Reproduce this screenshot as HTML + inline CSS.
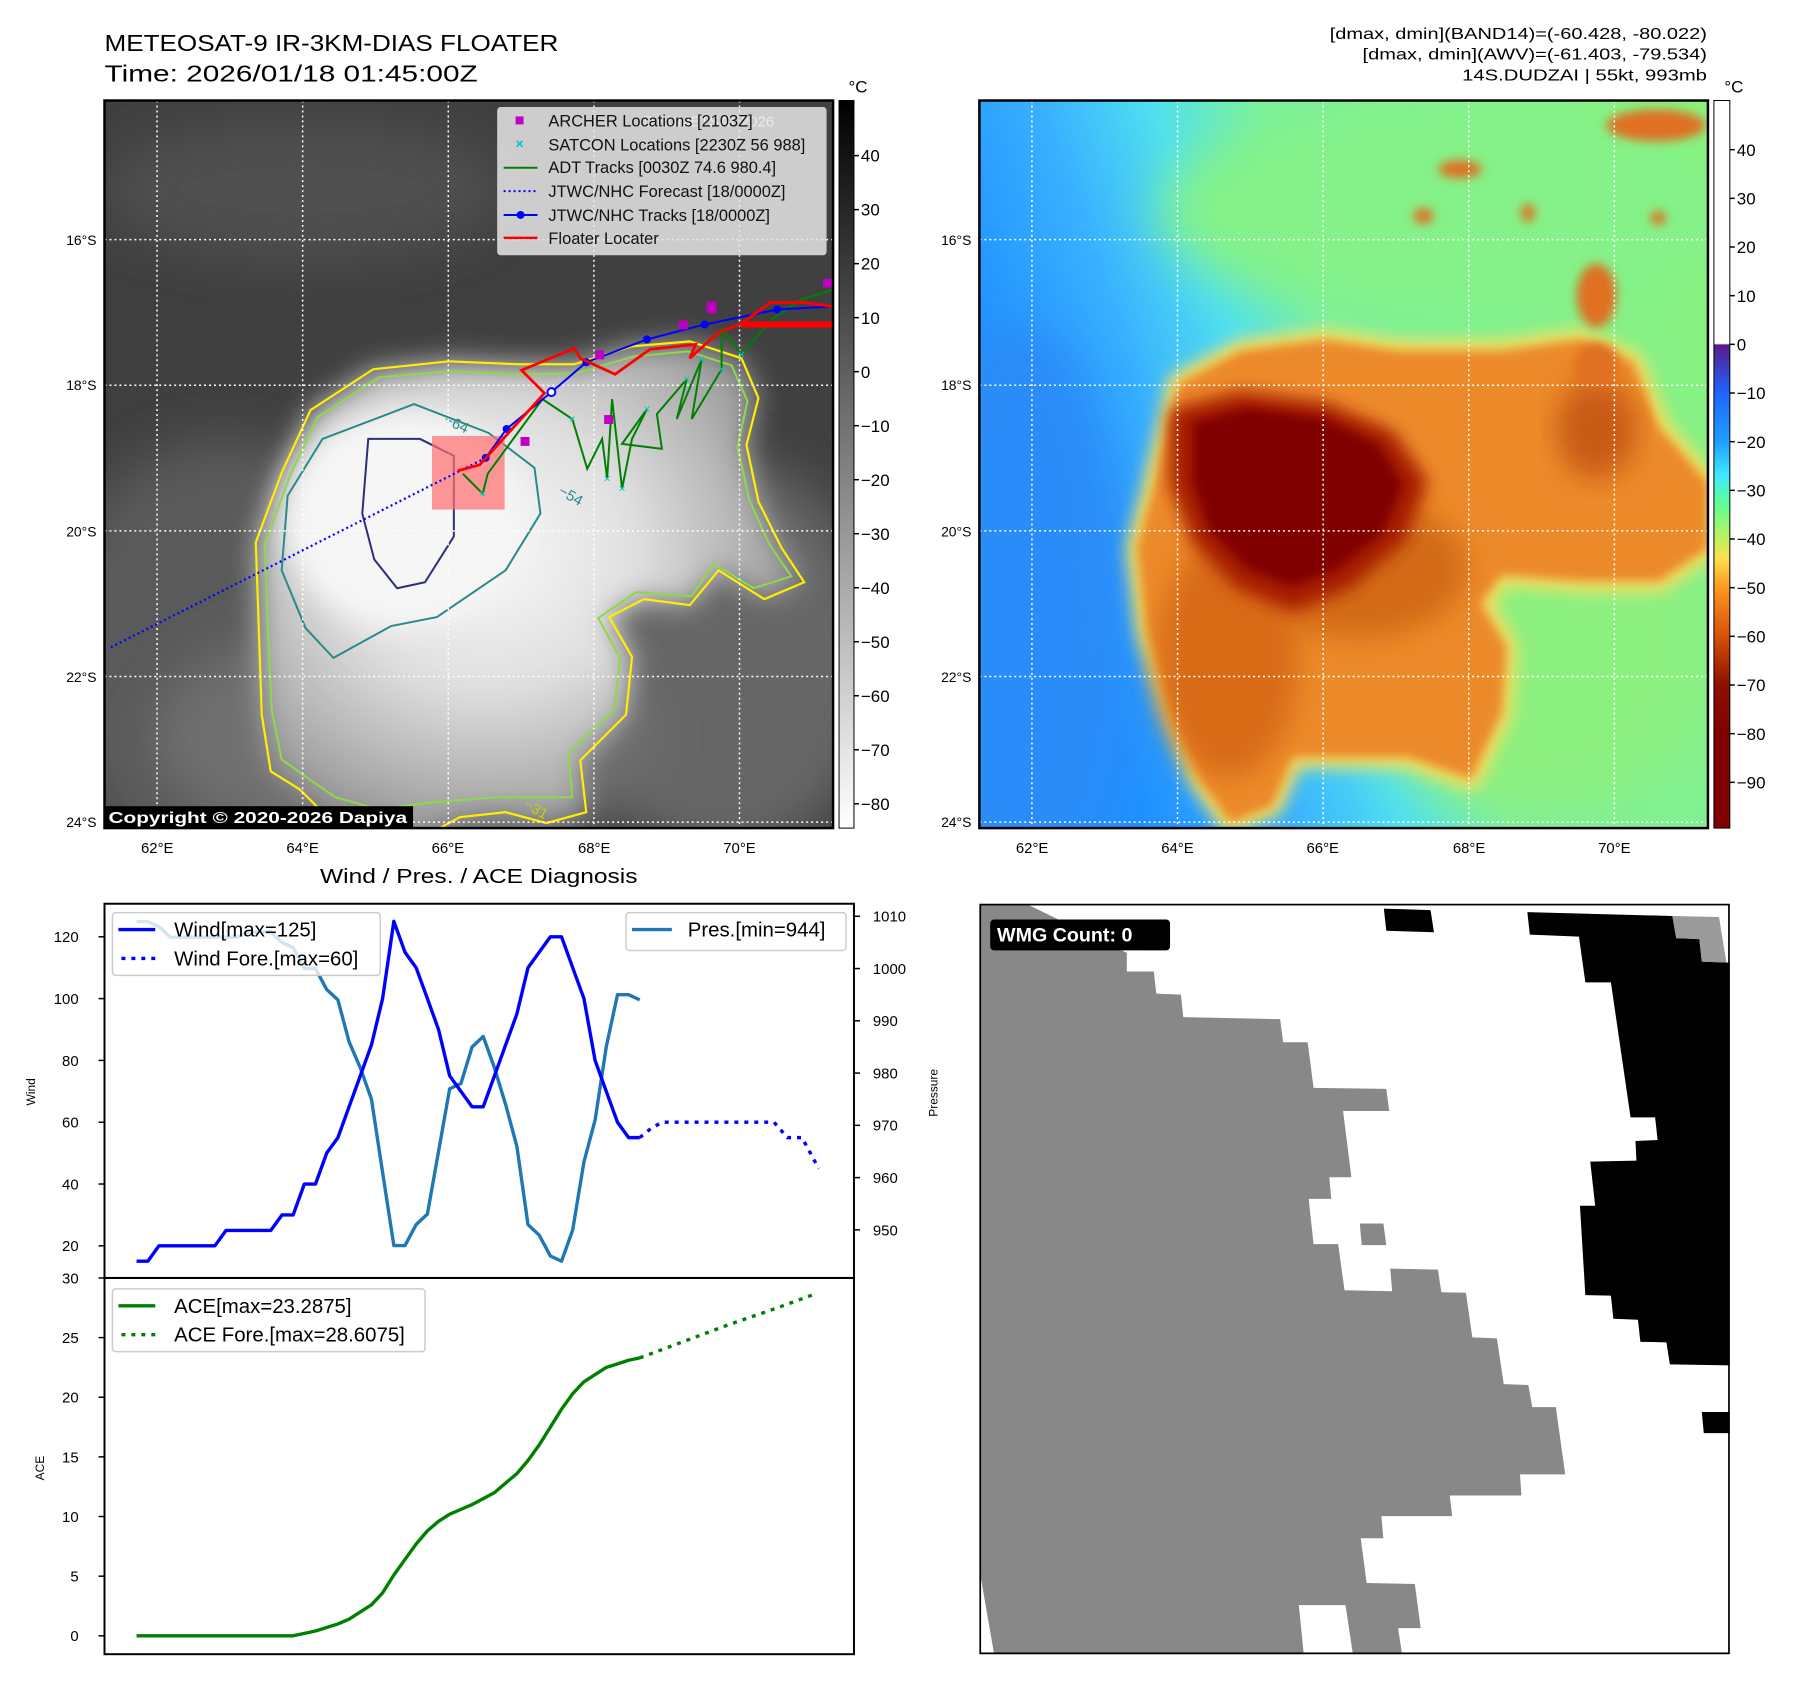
<!DOCTYPE html>
<html><head><meta charset="utf-8"><style>
html,body{margin:0;padding:0;background:#fff;}
svg{display:block;font-family:"Liberation Sans","DejaVu Sans",sans-serif;}
</style></head><body>
<svg id="root" width="1797" height="1690" viewBox="0 0 1797 1690" xmlns="http://www.w3.org/2000/svg">
<defs>
  <clipPath id="mapclip"><rect x="0" y="0" width="732" height="731"/></clipPath>
  <filter id="blur5" x="-20%" y="-20%" width="140%" height="140%"><feGaussianBlur stdDeviation="5"/></filter>
  <filter id="blur8" x="-20%" y="-20%" width="140%" height="140%"><feGaussianBlur stdDeviation="8"/></filter>
  <filter id="blur14" x="-20%" y="-20%" width="140%" height="140%"><feGaussianBlur stdDeviation="14"/></filter>
  <filter id="blur25" x="-30%" y="-30%" width="160%" height="160%"><feGaussianBlur stdDeviation="25"/></filter>
  <radialGradient id="cloudGray" cx="0.42" cy="0.42" r="0.6">
    <stop offset="0" stop-color="#f8f8f8"/><stop offset="0.45" stop-color="#e0e0e0"/><stop offset="0.8" stop-color="#b0b0b0"/><stop offset="1" stop-color="#909090"/>
  </radialGradient>
  <linearGradient id="bg2" x1="0" y1="0.35" x2="1" y2="0">
    <stop offset="0" stop-color="#2090ff"/><stop offset="0.18" stop-color="#38b0ff"/><stop offset="0.32" stop-color="#50e0f0"/><stop offset="0.45" stop-color="#7af0a0"/><stop offset="1" stop-color="#8cf27a"/>
  </linearGradient>
  <linearGradient id="cbGray" x1="0" y1="0" x2="0" y2="1">
    <stop offset="0" stop-color="#000"/><stop offset="1" stop-color="#fff"/>
  </linearGradient>
  <linearGradient id="cbColor" x1="0" y1="0" x2="0" y2="1">
    <stop offset="0" stop-color="#ffffff"/><stop offset="0.334" stop-color="#ffffff"/>
    <stop offset="0.336" stop-color="#5a1a8a"/><stop offset="0.401" stop-color="#1e64ff"/>
    <stop offset="0.469" stop-color="#1ea0ff"/><stop offset="0.515" stop-color="#40e8ff"/>
    <stop offset="0.556" stop-color="#60ff90"/><stop offset="0.602" stop-color="#c0f060"/>
    <stop offset="0.629" stop-color="#ffe050"/><stop offset="0.669" stop-color="#ff9820"/>
    <stop offset="0.736" stop-color="#d85008"/><stop offset="0.803" stop-color="#8b1000"/>
    <stop offset="0.87" stop-color="#800000"/><stop offset="1" stop-color="#800000"/>
  </linearGradient>
</defs>
<g transform="scale(0.9953)">
<!-- Titles -->
<text x="105" y="51" font-size="23" textLength="456" lengthAdjust="spacingAndGlyphs">METEOSAT-9 IR-3KM-DIAS FLOATER</text>
<text x="105" y="82" font-size="23" textLength="375" lengthAdjust="spacingAndGlyphs">Time: 2026/01/18 01:45:00Z</text>
<g font-size="16" text-anchor="end">
  <text x="1715" y="39" textLength="379" lengthAdjust="spacingAndGlyphs">[dmax, dmin](BAND14)=(-60.428, -80.022)</text>
  <text x="1715" y="60" textLength="346" lengthAdjust="spacingAndGlyphs">[dmax, dmin](AWV)=(-61.403, -79.534)</text>
  <text x="1715" y="81" textLength="246" lengthAdjust="spacingAndGlyphs">14S.DUDZAI | 55kt, 993mb</text>
</g>

<!-- MAP 1 (IR grayscale) -->
<g transform="translate(105,101)">
 <g clip-path="url(#mapclip)">
  <rect width="732" height="731" fill="#404040"/>
  <ellipse cx="120" cy="560" rx="180" ry="220" fill="#5a5a5a" filter="url(#blur25)"/>
  <ellipse cx="620" cy="560" rx="160" ry="200" fill="#666" filter="url(#blur25)"/>
  <ellipse cx="300" cy="640" rx="250" ry="120" fill="#707070" filter="url(#blur25)"/>
  <ellipse cx="200" cy="90" rx="200" ry="70" fill="#505050" filter="url(#blur25)"/>
  <path d="M270,270 L207,311 L178,374 L152,444 L155,530 L158,617 L167,674 L196,692 L219,715 L265,726 L311,745 L357,720 L403,715 L444,726 L484,715 L478,663 L524,617 L530,559 L507,519 L542,501 L588,507 L617,472 L663,501 L703,484 L680,449 L657,403 L645,346 L657,299 L640,259 L588,242 L530,247 L472,265 L415,265 L346,262 Z" fill="url(#cloudGray)" filter="url(#blur14)"/>
  <ellipse cx="300" cy="420" rx="120" ry="110" fill="#f6f6f6" filter="url(#blur14)"/>
  <path d="M270,270 L207,311 L178,374 L152,444 L155,530 L158,617 L167,674 L196,692 L219,715 L265,726 L311,745 L357,720 L403,715 L444,726 L484,715 L478,663 L524,617 L530,559 L507,519 L542,501 L588,507 L617,472 L663,501 L703,484 L680,449 L657,403 L645,346 L657,299 L640,259 L588,242 L530,247 L472,265 L415,265 L346,262 Z" fill="none" stroke="#ffee00" stroke-width="2.2"/>
  <path d="M276,278 L214,318 L186,378 L161,446 L164,528 L168,612 L178,662 L206,682 L232,700 L275,712 L330,705 L395,700 L470,700 L466,655 L512,612 L518,560 L496,520 L534,494 L590,498 L612,465 L652,490 L690,478 L668,446 L648,402 L636,348 L646,302 L630,266 L586,252 L532,257 L474,274 L414,275 L346,272 Z" fill="none" stroke="#8fd84a" stroke-width="2"/>
  <path d="M311,305 L219,340 L184,397 L178,472 L202,530 L230,560 L288,528 L334,519 L403,472 L438,415 L432,369 L386,334 Z" fill="none" stroke="#2a8a8a" stroke-width="2"/>
  <path d="M265,340 L317,340 L351,357 L351,438 L322,484 L294,490 L271,461 L259,415 Z" fill="none" stroke="#2c2f7a" stroke-width="2"/>
  <text x="340" y="324" font-size="15" fill="#2a8a8a" transform="rotate(25,340,324)">−64</text>
  <text x="455" y="395" font-size="15" fill="#2a8a8a" transform="rotate(30,455,395)">−54</text>
  <text x="420" y="710" font-size="15" fill="#cccc00" transform="rotate(30,420,710)">−31</text>
  <g stroke="#fff" stroke-width="1.5" stroke-dasharray="2 3">
    <line x1="52.8" y1="0" x2="52.8" y2="731"/><line x1="199.1" y1="0" x2="199.1" y2="731"/><line x1="345.4" y1="0" x2="345.4" y2="731"/><line x1="491.7" y1="0" x2="491.7" y2="731"/><line x1="638" y1="0" x2="638" y2="731"/>
    <line x1="0" y1="139.8" x2="732" y2="139.8"/><line x1="0" y1="286.1" x2="732" y2="286.1"/><line x1="0" y1="432.4" x2="732" y2="432.4"/><line x1="0" y1="578.7" x2="732" y2="578.7"/><line x1="0" y1="725" x2="732" y2="725"/>
  </g>
  <rect x="329" y="337" width="73" height="74" fill="#ff6e6e" opacity="0.7"/>
  <polyline points="383,359 5,550" fill="none" stroke="#0000ff" stroke-width="2.2" stroke-dasharray="2 3"/>
  <polyline points="360,375 380,395 385,375 440,300 470,320 485,370 500,340 505,380 510,300 520,390 530,340 545,310 520,345 560,350 555,315 585,280 575,320 600,260 590,320 620,270 620,230 640,255 670,220 700,200 732,190" fill="none" stroke="#008000" stroke-width="2"/>
  <g fill="#00c8c8" font-size="12" text-anchor="middle">
    <text x="380" y="399">×</text><text x="470" y="324">×</text><text x="505" y="384">×</text><text x="520" y="394">×</text><text x="545" y="314">×</text><text x="585" y="284">×</text><text x="600" y="264">×</text><text x="620" y="274">×</text><text x="640" y="259">×</text>
  </g>
  <polyline points="383,359 404,330 449,293 484,263 545,240 603,225 676,210 732,207" fill="none" stroke="#0000ff" stroke-width="2"/>
  <g fill="#0000ff"><circle cx="383" cy="359" r="4"/><circle cx="404" cy="330" r="4"/><circle cx="449" cy="293" r="4" fill="#fff" stroke="#00f" stroke-width="2"/><circle cx="484" cy="263" r="4"/><circle cx="545" cy="240" r="4"/><circle cx="603" cy="225" r="4"/><circle cx="676" cy="210" r="4"/></g>
  <polyline points="355,372 377,366 442,294 419,271 472,249 478,259 513,275 548,250 594,245 588,259 617,233 640,224 669,203 703,203 732,207" fill="none" stroke="#ff0000" stroke-width="2.8"/>
  <line x1="640" y1="225" x2="732" y2="225" stroke="#ff0000" stroke-width="6"/>
  <g fill="#c000c0">
    <rect x="493" y="251" width="9" height="9"/><rect x="502" y="316" width="9" height="9"/><rect x="418" y="338" width="9" height="9"/><rect x="577" y="221" width="9" height="9"/><rect x="605" y="202" width="10" height="12"/><rect x="722" y="179" width="9" height="9"/>
  </g>
  <g>
    <rect x="395" y="7" width="330" height="148" rx="3" fill="#e6e6e6" fill-opacity="0.85" stroke="#ccc"/>
    <text x="540" y="26" font-size="15" fill="#fff" fill-opacity="0.6">© EUMETSAT 2026</text>
    <rect x="413" y="16" width="8" height="8" fill="#c000c0"/>
    <text x="417" y="48" font-size="14" fill="#00c8c8" text-anchor="middle" font-weight="bold">×</text>
    <line x1="401" y1="67.5" x2="435" y2="67.5" stroke="#008000" stroke-width="2"/>
    <line x1="401" y1="91" x2="435" y2="91" stroke="#0000ff" stroke-width="2" stroke-dasharray="2 3"/>
    <line x1="401" y1="115" x2="435" y2="115" stroke="#0000ff" stroke-width="2"/><circle cx="418" cy="115" r="4" fill="#00f"/>
    <line x1="401" y1="138" x2="435" y2="138" stroke="#ff0000" stroke-width="2.5"/>
    <g font-size="16.5" fill="#111">
      <text x="446" y="26">ARCHER Locations [2103Z]</text>
      <text x="446" y="50">SATCON Locations [2230Z 56 988]</text>
      <text x="446" y="73">ADT Tracks [0030Z 74.6 980.4]</text>
      <text x="446" y="97">JTWC/NHC Forecast [18/0000Z]</text>
      <text x="446" y="121">JTWC/NHC Tracks [18/0000Z]</text>
      <text x="446" y="144">Floater Locater</text>
    </g>
  </g>
  <rect x="0" y="709" width="310" height="22" fill="#000"/>
  <text x="4" y="726" font-size="16" font-weight="bold" fill="#fff" textLength="300" lengthAdjust="spacingAndGlyphs">Copyright © 2020-2026 Dapiya</text>
 </g>
 <rect width="732" height="731" fill="none" stroke="#000" stroke-width="2.5"/>
</g>

<!-- MAP 2 (color IR) -->
<g transform="translate(984,101)">
 <g clip-path="url(#mapclip)">
  <rect width="732" height="731" fill="url(#bg2)"/>
  <ellipse cx="40" cy="520" rx="110" ry="300" fill="#2a8cf8" filter="url(#blur25)"/>
  <ellipse cx="480" cy="110" rx="300" ry="110" fill="#84f288" filter="url(#blur25)"/>
  <ellipse cx="560" cy="560" rx="180" ry="160" fill="#8cf080" filter="url(#blur25)"/>
  <path d="M173,395 L200,284 L263,251 L347,240 L420,251 L525,251 L604,240 L656,262 L683,328 L732,384 L732,450 L683,483 L604,483 L525,477 L504,505 L530,549 L525,615 L494,682 L431,660 L315,660 L294,709 L252,726 L221,682 L194,615 L168,533 L158,450 Z" fill="#f0e060" stroke="#f0e060" stroke-width="22" stroke-linejoin="round" filter="url(#blur8)"/>
  <path d="M173,395 L200,284 L263,251 L347,240 L420,251 L525,251 L604,240 L656,262 L683,328 L732,384 L732,450 L683,483 L604,483 L525,477 L504,505 L530,549 L525,615 L494,682 L431,660 L315,660 L294,709 L252,726 L221,682 L194,615 L168,533 L158,450 Z" fill="#ec8a2a" filter="url(#blur5)"/>
  <ellipse cx="380" cy="470" rx="110" ry="70" fill="#d36a18" filter="url(#blur14)"/>
  <ellipse cx="620" cy="330" rx="40" ry="50" fill="#c85a14" filter="url(#blur14)"/>
  <ellipse cx="250" cy="560" rx="70" ry="120" fill="#d86a18" filter="url(#blur14)"/>
  <path d="M200,317 L263,301 L347,312 L410,339 L441,384 L420,439 L368,483 L315,505 L263,483 L221,439 L200,384 Z" fill="#a01800" stroke="#a82000" stroke-width="18" stroke-linejoin="round" filter="url(#blur8)"/>
  <path d="M215,323 L270,309 L345,319 L400,345 L425,386 L405,434 L360,470 L315,488 L270,470 L232,432 L215,384 Z" fill="#800000" filter="url(#blur5)"/>
  <g fill="#e07020" filter="url(#blur5)">
    <ellipse cx="680" cy="25" rx="50" ry="16"/><ellipse cx="483" cy="69" rx="22" ry="9"/><ellipse cx="446" cy="116" rx="10" ry="8"/><ellipse cx="551" cy="113" rx="7" ry="9"/><ellipse cx="620" cy="196" rx="20" ry="32"/><ellipse cx="620" cy="265" rx="22" ry="22"/><ellipse cx="682" cy="118" rx="8" ry="7"/>
  </g>
  <g stroke="#fff" stroke-width="1.5" stroke-dasharray="2 3">
    <line x1="52.8" y1="0" x2="52.8" y2="731"/><line x1="199.1" y1="0" x2="199.1" y2="731"/><line x1="345.4" y1="0" x2="345.4" y2="731"/><line x1="491.7" y1="0" x2="491.7" y2="731"/><line x1="638" y1="0" x2="638" y2="731"/>
    <line x1="0" y1="139.8" x2="732" y2="139.8"/><line x1="0" y1="286.1" x2="732" y2="286.1"/><line x1="0" y1="432.4" x2="732" y2="432.4"/><line x1="0" y1="578.7" x2="732" y2="578.7"/><line x1="0" y1="725" x2="732" y2="725"/>
  </g>
 </g>
 <rect width="732" height="731" fill="none" stroke="#000" stroke-width="2.5"/>
</g>

<g font-size="14" fill="#000">
  <g text-anchor="end"><text x="97" y="246">16°S</text><text x="97" y="392">18°S</text><text x="97" y="539">20°S</text><text x="97" y="685">22°S</text><text x="97" y="831">24°S</text></g>
  <g text-anchor="end"><text x="976" y="246">16°S</text><text x="976" y="392">18°S</text><text x="976" y="539">20°S</text><text x="976" y="685">22°S</text><text x="976" y="831">24°S</text></g>
  <g text-anchor="middle" font-size="15"><text x="158" y="857">62°E</text><text x="304" y="857">64°E</text><text x="450" y="857">66°E</text><text x="597" y="857">68°E</text><text x="743" y="857">70°E</text>
  <text x="1037" y="857">62°E</text><text x="1183" y="857">64°E</text><text x="1329" y="857">66°E</text><text x="1476" y="857">68°E</text><text x="1622" y="857">70°E</text></g>
</g>

<g>
  <rect x="843" y="101" width="15" height="731" fill="url(#cbGray)" stroke="#000" stroke-width="1"/>
  <text x="862" y="93" font-size="17" text-anchor="middle">°C</text>
</g>
<g>
  <rect x="1722" y="101" width="16" height="731" fill="url(#cbColor)" stroke="#000" stroke-width="1"/>
  <text x="1742" y="93" font-size="17" text-anchor="middle">°C</text>
</g>
<g id="cbticks" font-size="17"></g>

<svg x="984" y="908" width="754" height="754" viewBox="0 0 1527 1528" preserveAspectRatio="none">
  <rect width="1527" height="1528" fill="#fff"/>
  <polygon points="0,0 95,0 300,100 300,138 355,138 360,183 410,185 415,231 612,235 618,282 668,282 680,375 828,377 834,422 740,422 757,557 712,557 716,601 670,601 680,693 730,693 743,787 840,789 836,743 933,745 940,791 990,792 1003,883 1053,885 1067,978 1117,980 1125,1025 1173,1025 1192,1162 1100,1162 1103,1205 957,1205 962,1247 818,1247 822,1292 776,1292 788,1383 886,1385 898,1475 852,1475 860,1528 760,1528 745,1428 650,1428 660,1528 30,1528 0,1355" fill="#888"/>
  <polygon points="774,651 822,651 828,695 778,695" fill="#888"/>
  <polygon points="823,10 918,13 925,58 828,55" fill="#000"/>
  <polygon points="1115,17 1410,25 1418,70 1465,72 1470,118 1527,120 1527,940 1405,938 1398,893 1345,892 1340,847 1290,845 1285,798 1233,797 1222,615 1253,615 1243,525 1337,523 1335,483 1380,481 1375,435 1325,435 1285,160 1233,160 1220,67 1120,63" fill="#000"/>
  <polygon points="1410,25 1505,27 1520,120 1470,118 1465,72 1418,70" fill="#9a9a9a"/>
  <polygon points="1470,1035 1527,1035 1527,1078 1474,1078" fill="#000"/>
  <rect x="22" y="32" width="366" height="63" rx="8" fill="#000"/>
  <text x="36" y="77" font-size="40" font-weight="bold" fill="#fff">WMG Count: 0</text>
  <rect x="1" y="1" width="1525" height="1526" fill="none" stroke="#000" stroke-width="5"/>
</svg>

<text x="481" y="887" font-size="20" text-anchor="middle" textLength="319" lengthAdjust="spacingAndGlyphs">Wind / Pres. / ACE Diagnosis</text>
<g id="charts"></g>
<rect x="105" y="908" width="753" height="376" fill="none" stroke="#000" stroke-width="2"/>
<rect x="105" y="1284" width="753" height="378" fill="none" stroke="#000" stroke-width="2"/>
<text transform="translate(35,1097) rotate(-90)" font-size="12" text-anchor="middle">Wind</text>
<text transform="translate(942,1098) rotate(-90)" font-size="12" text-anchor="middle">Pressure</text>
<text transform="translate(44,1475) rotate(-90)" font-size="12" text-anchor="middle">ACE</text>

<g>
  <rect x="113" y="917" width="269" height="63" rx="3" fill="#fff" fill-opacity="0.8" stroke="#ccc" stroke-width="1.5"/>
  <line x1="119" y1="934" x2="156" y2="934" stroke="#0000ff" stroke-width="3.4"/>
  <line x1="122" y1="963" x2="156" y2="963" stroke="#0000ff" stroke-width="3.4" stroke-dasharray="4 6"/>
  <text x="175" y="941" font-size="20.5">Wind[max=125]</text>
  <text x="175" y="970" font-size="20.5">Wind Fore.[max=60]</text>
</g>
<g>
  <rect x="629" y="917" width="221" height="38" rx="3" fill="#fff" fill-opacity="0.8" stroke="#ccc" stroke-width="1.5"/>
  <line x1="635" y1="934" x2="675" y2="934" stroke="#1f77b4" stroke-width="3.4"/>
  <text x="691" y="941" font-size="20.5">Pres.[min=944]</text>
</g>
<g>
  <rect x="113" y="1295" width="314" height="63" rx="3" fill="#fff" fill-opacity="0.8" stroke="#ccc" stroke-width="1.5"/>
  <line x1="119" y1="1312" x2="156" y2="1312" stroke="#008000" stroke-width="3.4"/>
  <line x1="122" y1="1341" x2="156" y2="1341" stroke="#008000" stroke-width="3.4" stroke-dasharray="4 6"/>
  <text x="175" y="1319" font-size="20.5">ACE[max=23.2875]</text>
  <text x="175" y="1348" font-size="20.5">ACE Fore.[max=28.6075]</text>
</g>
</g>
</svg>

<script>
const windVals = [15,15,20,20,20,20,20,20,25,25,25,25,25,30,30,40,40,50,55,65,75,85,100,125,115,110,100,90,75,70,65,65,75,85,95,110,115,120,120,110,100,80,70,60,55,55];
const presVals = [1009,1009,1008,1006,1006,1006,1006,1006,1006,1006,1007,1007,1007,1005,1004,1000,1000,996,994,986,981,975,961,947,947,951,953,965,977,978,985,987,981,974,966,951,949,945,944,950,963,971,985,995,995,994];
const aceVals = [0,0,0,0,0,0,0,0,0,0,0,0,0,0,0,0.2,0.4,0.7,1.0,1.4,2.0,2.6,3.6,5.1,6.4,7.7,8.8,9.6,10.2,10.6,11.0,11.5,12.0,12.8,13.6,14.7,16.0,17.5,19.0,20.3,21.3,21.9,22.5,22.8,23.1,23.3];
const windForeX = [45,46,47,51,55,57,58.2,59.5,61];
const windForeVals = [55,58,60,60,60,60,55,55,45];
const aceForeX = [45,49,53,57,60.5];
const aceForeVals = [23.3,24.7,26.1,27.4,28.6];
const windTicks = [20,40,60,80,100,120];
const presTicks = [950,960,970,980,990,1000,1010];
const aceTicks = [0,5,10,15,20,25,30];
const grayCbTicks = [40,30,20,10,0,-10,-20,-30,-40,-50,-60,-70,-80];
const colorCbTicks = [40,30,20,10,0,-10,-20,-30,-40,-50,-60,-70,-80,-90];

const NS = 'http://www.w3.org/2000/svg';
function xS(i){ return 105 + (i + 2.87) * 753 / 67.02; }
function windY(v){ return 908 + (130.7 - v) / (130.7 - 9.6) * 376; }
function presY(p){ return 908 + (1012.4 - p) / (1012.4 - 940.8) * 376; }
function aceY(a){ return 1284 + (30 - a) / 31.54 * 378; }
function grayCbY(t){ return 101 + (50.2 - t) / (50.2 + 84.5) * 731; }
function colorCbY(t){ return 101 + (50.1 - t) / (50.1 + 99.4) * 731; }

const charts = document.getElementById('charts');
function mk(tag, attrs, parent){
  const e = document.createElementNS(NS, tag);
  for (const k in attrs) e.setAttribute(k, attrs[k]);
  (parent || charts).appendChild(e);
  return e;
}
function line(xs, ys, color, dash, name){
  const pts = xs.map((x,i)=> x.toFixed(1)+','+ys[i].toFixed(1)).join(' ');
  const p = mk('polyline', {points: pts, fill:'none', stroke: color, 'stroke-width': 3.4, 'stroke-linejoin':'round'});
  if (dash) p.setAttribute('stroke-dasharray', dash);
  
  
}
const idx = windVals.map((_,i)=>i);
line(idx.map(xS), presVals.map(presY), '#1f77b4', null, 'pressure-line');
line(idx.map(xS), windVals.map(windY), '#0000ff', null, 'wind-line');
line(windForeX.map(xS), windForeVals.map(windY), '#0000ff', '4 6', 'wind-forecast-line');
line(aceVals.map((_,i)=>xS(i)), aceVals.map(aceY), '#008000', null, 'ace-line');
line(aceForeX.map(xS), aceForeVals.map(aceY), '#008000', '4 6', 'ace-forecast-line');

function tick(x1,y,x2,label,anchor,tx,parent,fs){
  const l = mk('line', {x1:x1, y1:y, x2:x2, y2:y, stroke:'#000', 'stroke-width':1.5}, parent);
  
  
  const t = mk('text', {x:tx, y:y+fs*0.36, 'font-size':fs, 'text-anchor':anchor}, parent);
  t.textContent = label;
  
  
}
windTicks.forEach(v=> tick(99, windY(v), 105, String(v), 'end', 79, null, 15));
presTicks.forEach(v=> tick(858, presY(v), 864, String(v), 'start', 877, null, 15));
aceTicks.forEach(v=> tick(99, aceY(v), 105, String(v), 'end', 79, null, 15));
const cb = document.getElementById('cbticks');
grayCbTicks.forEach(v=> tick(858, grayCbY(v), 863, v<0?'\u2212'+(-v):String(v), 'start', 865, cb, 17));
colorCbTicks.forEach(v=> tick(1738, colorCbY(v), 1743, v<0?'\u2212'+(-v):String(v), 'start', 1745, cb, 17));
</script>
</body></html>
